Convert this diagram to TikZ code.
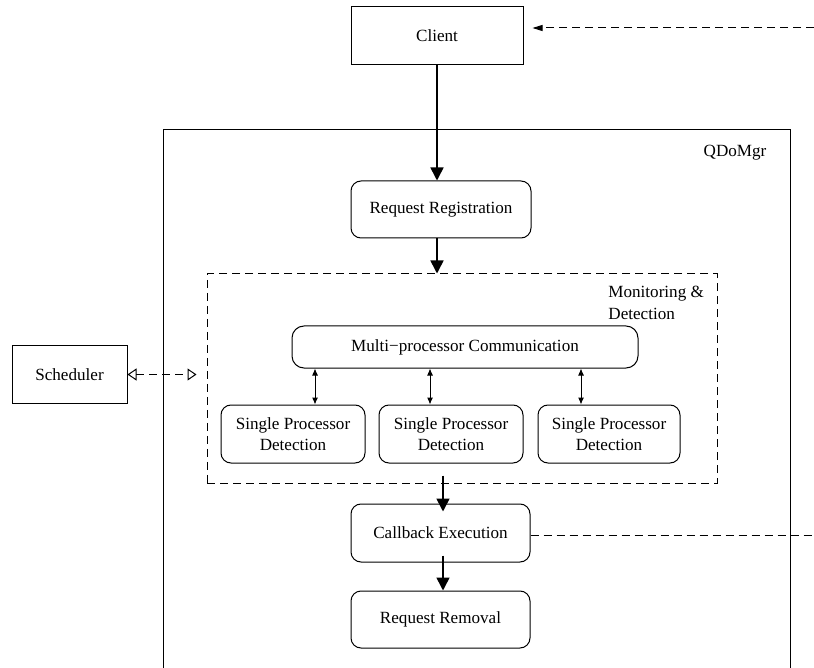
\documentclass[tikz,border=0pt]{standalone}
\usepackage{fontspec}
\setmainfont{Liberation Serif}
\usetikzlibrary{arrows.meta,calc}
\begin{document}
\begin{tikzpicture}[x=0.5pt,y=-0.5pt,
  font=\fontsize{8.55}{10.7}\selectfont,
  box/.style={draw, line width=0.5pt, inner sep=0pt, align=center},
  rbox/.style={box, rounded corners=5pt},
  flow/.style={line width=0.8pt, -{Triangle[length=6.5pt,width=6.5pt]}},
  link/.style={line width=0.5pt, {Latex[length=3.5pt,width=3pt]}-{Latex[length=3.5pt,width=3pt]}},
  dashline/.style={line width=0.5pt, dash pattern=on 4pt off 2.5pt},
  hollowtip/.style={{Triangle[open,length=4.5pt,width=6pt]}-{Triangle[open,length=4.5pt,width=6pt]}}
]
\useasboundingbox (0,0) rectangle (814,668);

% manager container (runs off the bottom of the page)
\node[box, minimum width=313.5pt, minimum height=285pt] (qdomgr) at (476.5,415) {};
\node (qlabel) at (735,153) {QDoMgr};

% nodes
\node[box, minimum width=86pt, minimum height=29pt] (client) at (437,36) {Client};
\node[rbox, minimum width=90pt, minimum height=28.5pt] (reg) at (441,209.5) {Request Registration};
\node[box, dashline, minimum width=255pt, minimum height=104.5pt] (mon) at (462,378.5) {};
\node[align=left, anchor=west, inner sep=0pt] (monlabel) at (608,303) {Monitoring \&\\Detection};
\node[rbox, rounded corners=6pt, minimum width=173pt, minimum height=21pt] (multi) at (465,347) {Multi−processor Communication};
\node[rbox, minimum width=72pt, minimum height=29pt] (spd1) at (293,434) {Single Processor\\Detection};
\node[rbox, minimum width=72pt, minimum height=29pt] (spd2) at (451,434) {Single Processor\\Detection};
\node[rbox, minimum width=71pt, minimum height=29pt] (spd3) at (609,434) {Single Processor\\Detection};
\node[box, minimum width=57.5pt, minimum height=28.5pt] (sched) at (69.5,374.5) {Scheduler};
\node[rbox, minimum width=89.5pt, minimum height=29pt] (cb) at (440.5,533) {Callback Execution};
\node[rbox, minimum width=89.5pt, minimum height=28.5pt] (rm) at (440.5,619.5) {Request Removal};

% main flow
\coordinate (mid) at (443,0);
\draw[flow] (client.south) -- (client.south |- reg.north);
\draw[flow] (client.south |- reg.south) -- (client.south |- mon.north);
\draw[flow] ($(mid |- mon.south)+(0,-8)$) -- ($(mid |- cb.north)+(0,8)$);
\draw[flow] ($(mid |- cb.south)+(0,-7)$) -- (mid |- rm.north);

% processor links
\coordinate (l1) at (315,0);
\coordinate (l2) at (430,0);
\coordinate (l3) at (581,0);
\draw[link] (l1 |- multi.south) -- (l1 |- spd1.north);
\draw[link] (l2 |- multi.south) -- (l2 |- spd2.north);
\draw[link] (l3 |- multi.south) -- (l3 |- spd3.north);

% scheduler interaction
\draw[dashline, hollowtip] (sched.east) -- ($(mon.west |- sched.east)+(-10,0)$);

% callback notification back to the client
\coordinate (fbR) at (814,28);
\draw[dashline, -{Triangle[length=5pt,width=3pt]}] (fbR) -- ($(client.east |- fbR)+(9,0)$);
\coordinate (cbR) at (814,535);
\draw[dashline] (cb.east |- cbR) -- (cbR);
\end{tikzpicture}
\end{document}
